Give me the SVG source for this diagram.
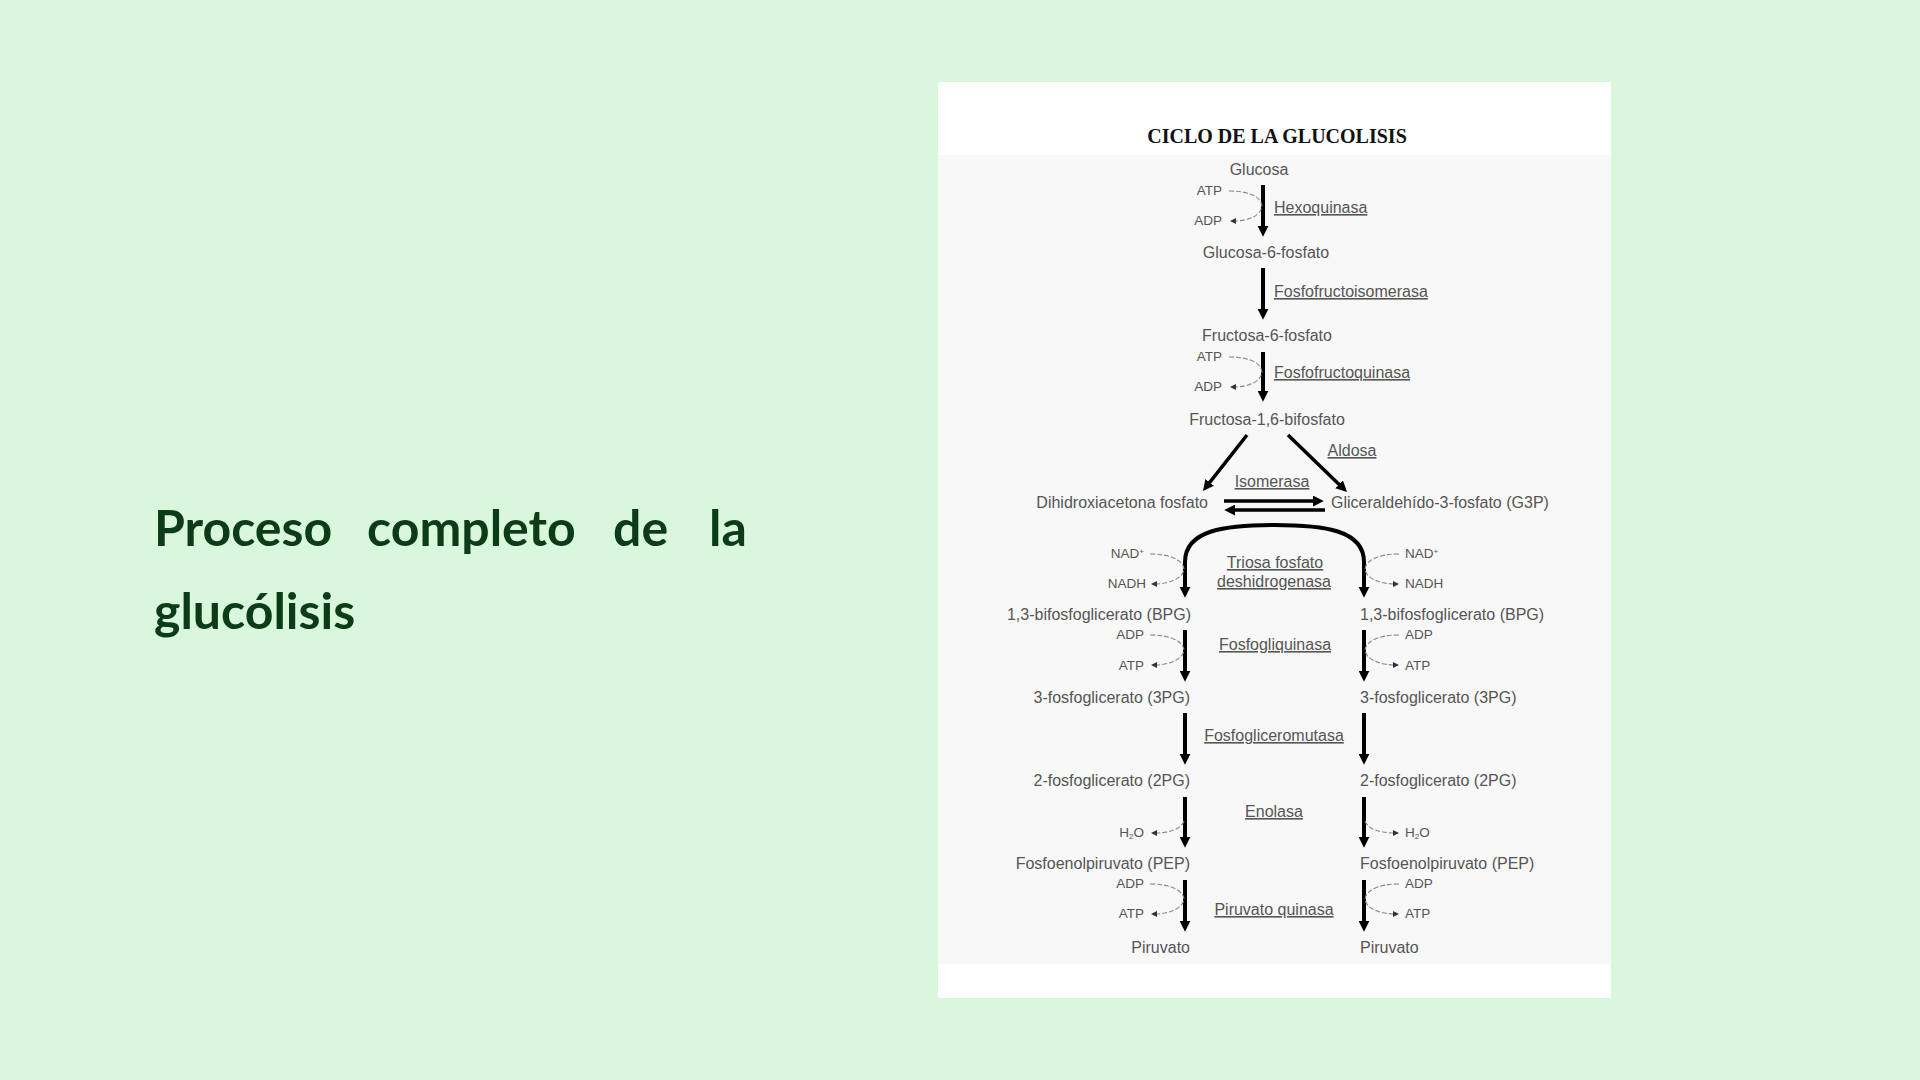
<svg xmlns="http://www.w3.org/2000/svg" width="1920" height="1080" viewBox="0 0 1920 1080">
<defs>
<style>
.hd{font-family:Lato,"Noto Sans",sans-serif;font-weight:bold;font-size:50px;fill:#0c3b1a}
.t{font-family:"Liberation Sans",Arial,sans-serif;font-size:16px;fill:#555}
.s{font-family:"Liberation Sans",Arial,sans-serif;font-size:13.5px;fill:#555}
.e{font-family:"Liberation Sans",Arial,sans-serif;font-size:16px;fill:#555;text-decoration:underline}
.ttl{font-family:"Liberation Serif","Times New Roman",serif;font-weight:bold;font-size:20px;fill:#111}
.m{stroke:#000;stroke-width:4;fill:none}
.d{stroke:#000;stroke-width:3.5;fill:none}
.c{stroke:#8a8a8a;stroke-width:1.1;fill:none;stroke-dasharray:5 2}
</style>
<marker id="ah" viewBox="0 0 10 10" refX="2" refY="5" markerWidth="11" markerHeight="11" markerUnits="userSpaceOnUse" orient="auto"><path d="M0,0 L10,5 L0,10 z" fill="#000"/></marker>
<marker id="sa" viewBox="0 0 10 10" refX="5" refY="5" markerWidth="6" markerHeight="6" markerUnits="userSpaceOnUse" orient="auto"><path d="M0,0 L10,5 L0,10 z" fill="#333"/></marker>
</defs>
<rect width="1920" height="1080" fill="#d8f7dc"/>
<g id="heading">
<text class="hd" y="546"><tspan x="154">Proceso</tspan><tspan x="367">completo</tspan><tspan x="613">de</tspan><tspan x="709">la</tspan></text>
<text class="hd" x="154" y="629">glucólisis</text>
</g>
<g id="panel">
<rect x="938" y="82" width="673" height="916" fill="#ffffff"/>
<rect x="938" y="155" width="673" height="809" fill="#f8f8f8"/>
<text class="ttl" x="1277" y="143" text-anchor="middle">CICLO DE LA GLUCOLISIS</text>
</g>
<g id="connectors">
<line class="m" x1="1263" y1="185" x2="1263" y2="228" marker-end="url(#ah)"/>
<line class="m" x1="1263" y1="268" x2="1263" y2="311" marker-end="url(#ah)"/>
<line class="m" x1="1263" y1="352" x2="1263" y2="393" marker-end="url(#ah)"/>
<line class="d" x1="1247" y1="435" x2="1208.4" y2="484.1" marker-end="url(#ah)"/>
<line class="d" x1="1288" y1="435" x2="1340.7" y2="485.9" marker-end="url(#ah)"/>
<line class="d" x1="1224" y1="501" x2="1315" y2="501" marker-end="url(#ah)"/>
<line class="d" x1="1325" y1="510" x2="1233" y2="510" marker-end="url(#ah)"/>
<path class="m" d="M1275,525 C1225,525 1185,530 1185,562 L1185,589" marker-end="url(#ah)"/>
<path class="m" d="M1274,525 C1324,525 1364,530 1364,562 L1364,589" marker-end="url(#ah)"/>
<line class="m" x1="1185" y1="630" x2="1185" y2="673" marker-end="url(#ah)"/>
<line class="m" x1="1185" y1="713" x2="1185" y2="756" marker-end="url(#ah)"/>
<line class="m" x1="1185" y1="797" x2="1185" y2="839" marker-end="url(#ah)"/>
<line class="m" x1="1185" y1="880" x2="1185" y2="923" marker-end="url(#ah)"/>
<line class="m" x1="1364" y1="630" x2="1364" y2="673" marker-end="url(#ah)"/>
<line class="m" x1="1364" y1="713" x2="1364" y2="756" marker-end="url(#ah)"/>
<line class="m" x1="1364" y1="797" x2="1364" y2="839" marker-end="url(#ah)"/>
<line class="m" x1="1364" y1="880" x2="1364" y2="923" marker-end="url(#ah)"/>
<path class="c" d="M1229,191 C1250,191 1261,197 1262,206 C1261,215 1250,221 1233,221" marker-end="url(#sa)"/>
<path class="c" d="M1229,357 C1250,357 1261,363 1262,372 C1261,381 1250,387 1233,387" marker-end="url(#sa)"/>
<path class="c" d="M1150,554 C1170,554 1183,560 1184,569 C1183,578 1170,584 1154,584" marker-end="url(#sa)"/>
<path class="c" d="M1399,554 C1379,554 1366,560 1365,569 C1366,578 1379,584 1396,584" marker-end="url(#sa)"/>
<path class="c" d="M1150,635 C1170,635 1183,641 1184,650 C1183,659 1170,665 1154,665" marker-end="url(#sa)"/>
<path class="c" d="M1399,635 C1379,635 1366,641 1365,650 C1366,659 1379,665 1396,665" marker-end="url(#sa)"/>
<path class="c" d="M1184,821 C1181,829 1170,833 1154,833" marker-end="url(#sa)"/>
<path class="c" d="M1365,821 C1368,829 1379,833 1396,833" marker-end="url(#sa)"/>
<path class="c" d="M1150,884 C1170,884 1183,890 1184,899 C1183,908 1170,914 1154,914" marker-end="url(#sa)"/>
<path class="c" d="M1399,884 C1379,884 1366,890 1365,899 C1366,908 1379,914 1396,914" marker-end="url(#sa)"/>
</g>
<g id="n-glucosa"><text class="t" x="1259" y="175" text-anchor="middle">Glucosa</text></g>
<g id="n-hexo">
<text class="s" x="1222" y="195" text-anchor="end">ATP</text>
<text class="s" x="1222" y="225" text-anchor="end">ADP</text>
<text class="e" x="1274" y="213">Hexoquinasa</text>
</g>
<g id="n-g6p"><text class="t" x="1266" y="258" text-anchor="middle">Glucosa-6-fosfato</text></g>
<g id="n-pfi"><text class="e" x="1274" y="297">Fosfofructoisomerasa</text></g>
<g id="n-f6p"><text class="t" x="1267" y="341" text-anchor="middle">Fructosa-6-fosfato</text></g>
<g id="n-pfk">
<text class="s" x="1222" y="361" text-anchor="end">ATP</text>
<text class="s" x="1222" y="391" text-anchor="end">ADP</text>
<text class="e" x="1274" y="378">Fosfofructoquinasa</text>
</g>
<g id="n-f16bp"><text class="t" x="1267" y="425" text-anchor="middle">Fructosa-1,6-bifosfato</text></g>
<g id="n-aldosa"><text class="e" x="1352" y="456" text-anchor="middle">Aldosa</text></g>
<g id="n-isomerasa"><text class="e" x="1272" y="487" text-anchor="middle">Isomerasa</text></g>
<g id="n-dhap"><text class="t" x="1208" y="508" text-anchor="end">Dihidroxiacetona fosfato</text></g>
<g id="n-g3p"><text class="t" x="1331" y="508">Gliceraldehído-3-fosfato (G3P)</text></g>
<g id="n-tpd">
<text class="s" x="1144" y="558" text-anchor="end">NAD<tspan font-size="8" dy="-4">+</tspan></text>
<text class="s" x="1146" y="588" text-anchor="end">NADH</text>
<text class="s" x="1405" y="558">NAD<tspan font-size="8" dy="-4">+</tspan></text>
<text class="s" x="1405" y="588">NADH</text>
<text class="e" x="1275" y="568" text-anchor="middle">Triosa fosfato</text>
<text class="e" x="1274" y="587" text-anchor="middle">deshidrogenasa</text>
</g>
<g id="n-bpg">
<text class="t" x="1191" y="620" text-anchor="end">1,3-bifosfoglicerato (BPG)</text>
<text class="t" x="1360" y="620">1,3-bifosfoglicerato (BPG)</text>
</g>
<g id="n-pgk">
<text class="s" x="1144" y="639" text-anchor="end">ADP</text>
<text class="s" x="1144" y="670" text-anchor="end">ATP</text>
<text class="s" x="1405" y="639">ADP</text>
<text class="s" x="1405" y="670">ATP</text>
<text class="e" x="1275" y="650" text-anchor="middle">Fosfogliquinasa</text>
</g>
<g id="n-3pg">
<text class="t" x="1190" y="703" text-anchor="end">3-fosfoglicerato (3PG)</text>
<text class="t" x="1360" y="703">3-fosfoglicerato (3PG)</text>
</g>
<g id="n-pgm"><text class="e" x="1274" y="741" text-anchor="middle">Fosfogliceromutasa</text></g>
<g id="n-2pg">
<text class="t" x="1190" y="786" text-anchor="end">2-fosfoglicerato (2PG)</text>
<text class="t" x="1360" y="786">2-fosfoglicerato (2PG)</text>
</g>
<g id="n-enolasa">
<text class="e" x="1274" y="817" text-anchor="middle">Enolasa</text>
<text class="s" x="1144" y="837" text-anchor="end">H<tspan font-size="8" dy="2">2</tspan><tspan dy="-2">O</tspan></text>
<text class="s" x="1405" y="837">H<tspan font-size="8" dy="2">2</tspan><tspan dy="-2">O</tspan></text>
</g>
<g id="n-pep">
<text class="t" x="1190" y="869" text-anchor="end">Fosfoenolpiruvato (PEP)</text>
<text class="t" x="1360" y="869">Fosfoenolpiruvato (PEP)</text>
</g>
<g id="n-pk">
<text class="s" x="1144" y="888" text-anchor="end">ADP</text>
<text class="s" x="1144" y="918" text-anchor="end">ATP</text>
<text class="s" x="1405" y="888">ADP</text>
<text class="s" x="1405" y="918">ATP</text>
<text class="e" x="1274" y="915" text-anchor="middle">Piruvato quinasa</text>
</g>
<g id="n-piruvato">
<text class="t" x="1190" y="953" text-anchor="end">Piruvato</text>
<text class="t" x="1360" y="953">Piruvato</text>
</g>
</svg>
